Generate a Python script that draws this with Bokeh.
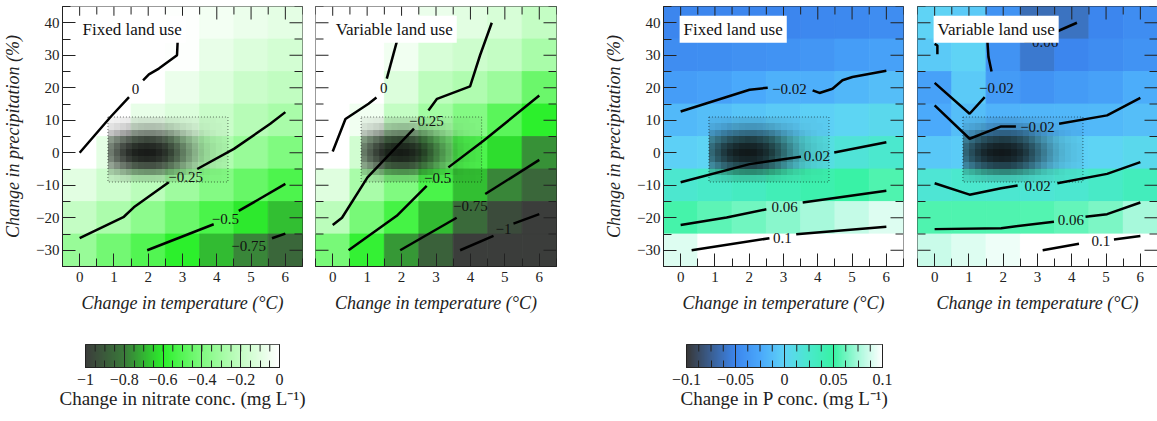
import numpy as np
from bokeh.plotting import figure
from bokeh.layouts import row, column
from bokeh.models import LinearColorMapper, FixedTicker, Label, ColumnDataSource
from bokeh.core.properties import value
from bokeh.embed import file_html
from bokeh.resources import INLINE

FONT = "Liberation Serif"

# ---------------- data ----------------
TEMP = [0, 1, 2, 3, 4, 5, 6]
PRECIP = [40, 30, 20, 10, 0, -10, -20, -30]
X_RANGE = (-0.5, 6.5)
Y_RANGE = (-35, 45)

X_TICKS = [0, 1, 2, 3, 4, 5, 6]
X_TICK_LABELS = ["0", "1", "2", "3", "4", "5", "6"]
X_MINOR = [-0.5, 0.5, 1.5, 2.5, 3.5, 4.5, 5.5, 6.5]
Y_TICKS = [-30, -20, -10, 0, 10, 20, 30, 40]
Y_TICK_LABELS = ["\u221230", "\u221220", "\u221210", "0", "10", "20", "30", "40"]
Y_MINOR = [-35, -25, -15, -5, 5, 15, 25, 35, 45]

# change in nitrate, rows follow PRECIP, columns follow TEMP
NO3_FIXED = [
    [0, 0, 0, -0.01, -0.04, -0.07, -0.09],
    [0, 0, 0, -0.01, -0.08, -0.12, -0.15],
    [0, 0, 0, -0.07, -0.12, -0.18, -0.21],
    [0, 0, -0.08, -0.12, -0.18, -0.24, -0.28],
    [0, -0.09, -0.15, -0.21, -0.26, -0.33, -0.40],
    [-0.10, -0.17, -0.23, -0.31, -0.39, -0.46, -0.52],
    [-0.20, -0.27, -0.36, -0.45, -0.53, -0.61, -0.68],
    [-0.33, -0.43, -0.51, -0.60, -0.69, -0.78, -0.86],
]
NO3_VAR = [
    [0, 0, 0, -0.07, -0.10, -0.14, -0.20],
    [0, 0, -0.05, -0.14, -0.17, -0.20, -0.28],
    [0, 0, -0.12, -0.22, -0.26, -0.32, -0.45],
    [0, -0.05, -0.20, -0.30, -0.39, -0.49, -0.60],
    [0, -0.16, -0.29, -0.41, -0.52, -0.63, -0.76],
    [-0.11, -0.28, -0.40, -0.53, -0.68, -0.78, -0.86],
    [-0.23, -0.42, -0.54, -0.69, -0.85, -0.95, -1.0],
    [-0.42, -0.58, -0.75, -0.88, -1.0, -1.0, -1.0],
]
# change in P
P_FIXED = [
    [-0.050, -0.050, -0.050, -0.050, -0.048, -0.047, -0.045],
    [-0.045, -0.044, -0.042, -0.040, -0.038, -0.033, -0.030],
    [-0.033, -0.030, -0.025, -0.020, -0.021, -0.016, -0.012],
    [-0.015, -0.012, -0.008, -0.005, -0.002, 0.002, 0.006],
    [-0.002, 0.001, 0.004, 0.008, 0.012, 0.018, 0.024],
    [0.023, 0.027, 0.032, 0.038, 0.043, 0.049, 0.055],
    [0.053, 0.058, 0.063, 0.068, 0.075, 0.083, 0.090],
    [0.090, 0.100, 0.100, 0.100, 0.100, 0.100, 0.100],
]
P_VAR = [
    [0.000, -0.005, -0.040, -0.065, -0.062, -0.050, -0.045],
    [-0.005, 0.000, -0.040, -0.058, -0.050, -0.045, -0.040],
    [-0.030, -0.005, -0.035, -0.040, -0.035, -0.030, -0.022],
    [-0.024, -0.012, -0.018, -0.017, -0.016, -0.015, -0.012],
    [-0.007, -0.004, -0.004, -0.003, -0.002, 0.001, 0.006],
    [0.020, 0.024, 0.022, 0.020, 0.022, 0.028, 0.035],
    [0.055, 0.055, 0.055, 0.056, 0.060, 0.065, 0.075],
    [0.085, 0.090, 0.095, 0.100, 0.100, 0.100, 0.100],
]

# contour segments: (xs, ys)
NO3_FIXED_LINES = [
    ([0, 0.9, 1.44], [0, 11, 17.1]),
    ([1.85, 2.02, 2.31, 2.84, 2.86], [22.3, 24.1, 25.9, 30, 34.6]),
    ([0, 1.29, 1.58, 2.6], [-26.3, -19.7, -16.8, -9.1]),
    ([3.43, 4.5, 5.56, 6.0], [-5, 1.2, 8.9, 12.5]),
    ([1.97, 3.91], [-30, -22]),
    ([4.64, 6.0], [-17.9, -9.6]),
    ([5.61, 6.0], [-26.3, -24.9]),
]
NO3_FIXED_LABELS = [(1.63, 19.7, "0"), (3.09, -7.6, "\u22120.25"),
                    (4.25, -20.5, "\u22120.5"), (4.93, -28.7, "\u22120.75")]
NO3_VAR_LINES = [
    ([0, 0.37, 1.04, 1.27], [0.4, 10.4, 15.1, 17]),
    ([1.57, 1.88], [22.8, 34.9]),
    ([0, 0.27, 1.01, 2.36], [-22.2, -20, -7.6, 7.4]),
    ([2.78, 3.03, 3.99, 4.28, 4.62], [13, 16.6, 20.4, 30, 40]),
    ([0.46, 1.86, 2.73], [-30, -19.4, -10.2]),
    ([3.36, 4.38, 6.0], [-4.5, 3.7, 17.6]),
    ([1.96, 3.6], [-30, -20]),
    ([4.43, 6.0], [-12.7, -2.2]),
    ([3.7, 4.67], [-30, -25.6]),
    ([5.25, 6.0], [-21.8, -18.9]),
]
NO3_VAR_LABELS = [(1.48, 20, "0"), (2.72, 9.8, "\u22120.25"), (3.05, -7.8, "\u22120.5"),
                  (4.0, -16.4, "\u22120.75"), (4.96, -23.5, "\u22121")]
P_FIXED_LINES = [
    ([0, 2.01, 2.54], [12.7, 19.4, 20]),
    ([3.85, 4.05, 4.43, 4.72, 5.01, 6.0], [19.2, 18.4, 19.7, 22.3, 23.3, 25.2]),
    ([0, 2.01, 3.51], [-9.1, -3.5, -1.2]),
    ([4.48, 6.0], [0.1, 3.2]),
    ([0, 1.34, 2.5], [-22.2, -19.9, -17.4]),
    ([3.56, 6.0], [-15.3, -11.7]),
    ([0.32, 2.59], [-30, -26.3]),
    ([3.37, 6.0], [-25.1, -22.8]),
]
P_FIXED_LABELS = [(3.17, 19.7, "\u22120.02"), (3.97, -1.0, "0.02"),
                  (3.03, -16.6, "0.06"), (2.97, -26.1, "0.1")]
P_VAR_LINES = [
    ([0, 0.08, 0.08], [33.5, 33, 30.3]),
    ([3.5, 4.15], [37, 40]),
    ([1.53, 1.57, 1.66], [35.7, 29.5, 25]),
    ([1.46, 1.02, 0], [17.1, 12, 21.5]),
    ([0, 1.02, 1.94, 2.37], [14.6, 4.3, 8.1, 8.1]),
    ([3.63, 5.03, 6.0], [8.9, 11.5, 16.9]),
    ([0, 1.02, 1.94, 2.42], [-9.4, -12.9, -10.9, -10.1]),
    ([3.58, 5.03, 6.0], [-9.4, -6.5, -2.9]),
    ([0, 1.94, 3.48], [-23.5, -23.2, -21.2]),
    ([4.4, 5.03, 6.0], [-19.7, -18.9, -15.3]),
    ([3.15, 4.21], [-30, -28]),
    ([5.23, 6.0], [-26.7, -25.6]),
]
P_VAR_LABELS = [(3.1, 34.2, "\u22120.06"), (1.8, 19.8, "\u22120.02"), (3.0, 7.8, "\u22120.02"),
                (3.0, -10.1, "0.02"), (3.97, -20.8, "0.06"), (4.85, -27.2, "0.1")]

# climate-scenario sample cloud: extent and read-off point density (rows top to bottom)
CLOUD_X = [0.825, 4.325]
CLOUD_Y = [-9, 11]
CLOUD_DENSITY = [
    [.06, .07, .08, .09, .10, .11, .11, .11, .11, .10, .09, .08, .07, .06, .05, .05, .04, .04, .03, .03],
    [.12, .15, .18, .21, .23, .25, .26, .26, .25, .23, .20, .17, .14, .11, .09, .07, .06, .05, .04, .03],
    [.25, .31, .37, .42, .46, .49, .50, .50, .48, .45, .40, .34, .27, .21, .16, .12, .09, .07, .05, .04],
    [.42, .51, .59, .66, .71, .74, .76, .75, .72, .67, .60, .51, .41, .32, .24, .17, .12, .09, .07, .05],
    [.52, .63, .73, .80, .85, .88, .89, .88, .85, .80, .72, .62, .51, .40, .30, .21, .15, .11, .08, .06],
    [.55, .67, .78, .86, .91, .93, .94, .93, .90, .85, .77, .66, .54, .43, .32, .23, .16, .11, .08, .06],
    [.50, .62, .72, .80, .85, .88, .89, .88, .85, .80, .72, .62, .51, .40, .30, .21, .15, .11, .08, .06],
    [.38, .47, .56, .63, .68, .71, .72, .72, .69, .64, .57, .49, .39, .30, .22, .16, .11, .08, .06, .05],
    [.21, .26, .32, .37, .41, .43, .44, .44, .42, .39, .34, .29, .23, .17, .13, .10, .07, .05, .04, .03],
    [.08, .10, .12, .14, .15, .16, .16, .16, .15, .14, .12, .10, .08, .07, .06, .05, .04, .03, .03, .02],
]

NO3_CB_RANGE = (-1.0, 0.0)
NO3_CB_TICKS = [-1, -0.8, -0.6, -0.4, -0.2, 0]
NO3_CB_LABELS = ["\u22121", "\u22120.8", "\u22120.6", "\u22120.4", "\u22120.2", "0"]
NO3_CB_MINOR = [round(-1 + 0.05 * i, 3) for i in range(21)]
P_CB_RANGE = (-0.1, 0.1)
P_CB_TICKS = [-0.1, -0.05, 0, 0.05, 0.1]
P_CB_LABELS = ["\u22120.1", "\u22120.05", "0", "0.05", "0.1"]
P_CB_MINOR = [round(-0.1 + 0.0125 * i, 4) for i in range(17)]

# ---------------- colour maps ----------------
NO3_STOPS = [(-1.0, "#3b3d3b"), (-0.8, "#3a7a3a"), (-0.6, "#2cf02c"),
             (-0.4, "#80fa80"), (-0.2, "#c4fdc4"), (0.0, "#ffffff")]
P_STOPS = [(-0.1, "#383838"), (-0.05, "#3c86ee"), (-0.025, "#4aa8fb"), (0.0, "#5fd3f6"),
           (0.025, "#4ae9cc"), (0.05, "#38f2a4"), (0.075, "#a5f9da"), (0.1, "#ffffff")]


def build_palette(stops, n=256):
    vs = [s[0] for s in stops]
    cs = [tuple(int(s[1][i:i + 2], 16) for i in (1, 3, 5)) for s in stops]
    out = []
    for k in range(n):
        v = vs[0] + (vs[-1] - vs[0]) * k / (n - 1)
        j = max(i for i in range(len(vs) - 1) if vs[i] <= v + 1e-12) if v < vs[-1] else len(vs) - 2
        t = (v - vs[j]) / (vs[j + 1] - vs[j])
        c = [round(cs[j][m] + (cs[j + 1][m] - cs[j][m]) * t) for m in range(3)]
        out.append("#%02x%02x%02x" % tuple(c))
    return out


no3_mapper = LinearColorMapper(palette=build_palette(NO3_STOPS), low=-1.0, high=0.0)
p_mapper = LinearColorMapper(palette=build_palette(P_STOPS), low=-0.1, high=0.1)

INK = "#222222"
MAJ = 13
MIN = 8


def style_axis(ax, ticks, minor, labels):
    ax.ticker = FixedTicker(ticks=ticks, minor_ticks=minor)
    ax.major_tick_in = MAJ
    ax.major_tick_out = 0
    ax.minor_tick_in = MIN
    ax.minor_tick_out = 0
    ax.axis_line_color = INK
    ax.major_tick_line_color = INK
    ax.minor_tick_line_color = INK
    ax.major_label_text_font = FONT
    ax.major_label_text_color = INK
    ax.major_label_text_font_size = "15px"
    ax.axis_label_text_font = FONT
    ax.axis_label_text_font_style = "italic"
    ax.axis_label_text_font_size = "18px"
    ax.axis_label_text_color = INK
    ax.major_label_overrides = dict(zip(ticks, labels))


def edge_ticks(p, pos, at, length, angle):
    # inward tick marks along a frame edge (screen-length rays)
    if angle in (0.0, np.pi):
        xs, ys = [pos] * len(at), at
    else:
        xs, ys = at, [pos] * len(at)
    p.ray(x=xs, y=ys, length=length, angle=angle, length_units="screen",
          line_color=INK, line_width=1)


def cloud_image():
    dens = np.array(CLOUD_DENSITY[::-1])
    ny, nx = dens.shape
    img = np.zeros((ny, nx), dtype=np.uint32)
    view = img.view(dtype=np.uint8).reshape((ny, nx, 4))
    view[:, :, 0] = 12
    view[:, :, 1] = 12
    view[:, :, 2] = 12
    view[:, :, 3] = (dens * 255).astype(np.uint8)
    return img


def make_panel(grid, mapper, lines, labels, title, show_y, left, right, fw):
    p = figure(frame_width=fw, frame_height=260, x_range=X_RANGE, y_range=Y_RANGE,
               min_border_left=left, min_border_right=right, min_border_top=6,
               min_border_bottom=50, output_backend="svg", toolbar_location=None, tools="")
    p.grid.visible = False
    p.outline_line_color = INK
    p.background_fill_color = "white"
    p.border_fill_color = "white"

    xs, ys, vs = [], [], []
    for r, pr in enumerate(PRECIP):
        for c, t in enumerate(TEMP):
            xs.append(t)
            ys.append(pr)
            vs.append(grid[r][c])
    src = ColumnDataSource(dict(x=xs, y=ys, v=vs))
    p.rect(x="x", y="y", width=1, height=10, source=src,
           fill_color={"field": "v", "transform": mapper},
           line_color={"field": "v", "transform": mapper}, line_width=0.8)

    p.image_rgba(image=[cloud_image()], x=CLOUD_X[0], y=CLOUD_Y[0],
                 dw=CLOUD_X[1] - CLOUD_X[0], dh=CLOUD_Y[1] - CLOUD_Y[0])
    p.quad(left=[CLOUD_X[0]], right=[CLOUD_X[1]], bottom=[CLOUD_Y[0]], top=[CLOUD_Y[1]],
           fill_color=None, line_color="black", line_alpha=0.55, line_width=1, line_dash="1 2")

    p.multi_line(xs=[l[0] for l in lines], ys=[l[1] for l in lines],
                 line_color="black", line_width=2.5)
    p.text(x=[l[0] for l in labels], y=[l[1] for l in labels], text=[l[2] for l in labels],
           text_align="center", text_baseline="middle", text_font=value(FONT),
           text_font_size="15px", text_color="#111111")

    style_axis(p.xaxis[0], X_TICKS, X_MINOR, X_TICK_LABELS)
    p.xaxis.axis_label = "Change in temperature (\u00b0C)"
    p.xaxis.major_label_standoff = 5
    p.xaxis.axis_label_standoff = 8
    if show_y:
        style_axis(p.yaxis[0], Y_TICKS, Y_MINOR, Y_TICK_LABELS)
        p.yaxis.axis_label = "Change in precipitation (%)"
        p.yaxis.major_label_standoff = 3
        p.yaxis.axis_label_standoff = 10
    else:
        p.yaxis.visible = False
        edge_ticks(p, X_RANGE[0], Y_TICKS, MAJ, 0.0)
        edge_ticks(p, X_RANGE[0], Y_MINOR, MIN, 0.0)

    # mirrored inward ticks on top and right
    edge_ticks(p, Y_RANGE[1], X_TICKS, MAJ, -np.pi / 2)
    edge_ticks(p, Y_RANGE[1], X_MINOR, MIN, -np.pi / 2)
    edge_ticks(p, X_RANGE[1], Y_TICKS, MAJ, np.pi)
    edge_ticks(p, X_RANGE[1], Y_MINOR, MIN, np.pi)

    p.add_layout(Label(x=-0.03, y=38, text=title, text_font=FONT, text_font_size="17px",
                       text_baseline="middle", text_align="left", text_color="#111111",
                       background_fill_color="white", padding=4))
    return p


def make_cbar(mapper, rng, ticks, labels, minor, title, left, fw, right):
    lo, hi = rng
    c = figure(frame_width=fw, frame_height=23, x_range=rng, y_range=(0, 1),
               min_border_left=left, min_border_right=right, min_border_top=28,
               min_border_bottom=54, output_backend="svg", toolbar_location=None, tools="")
    c.grid.visible = False
    c.yaxis.visible = False
    c.outline_line_color = INK
    c.image(image=[np.linspace(lo, hi, 256)[None, :]], x=lo, y=0, dw=hi - lo, dh=1,
            color_mapper=mapper)
    ax = c.xaxis[0]
    ax.ticker = FixedTicker(ticks=ticks, minor_ticks=minor)
    ax.major_label_overrides = dict(zip(ticks, labels))
    ax.major_tick_in = 23
    ax.major_tick_out = 0
    ax.minor_tick_in = 7
    ax.minor_tick_out = 0
    ax.axis_line_color = INK
    ax.major_tick_line_color = INK
    ax.minor_tick_line_color = INK
    ax.major_label_text_font = FONT
    ax.major_label_text_font_size = "16px"
    ax.major_label_text_color = INK
    ax.major_label_standoff = 6
    ax.axis_label = title
    ax.axis_label_text_font = FONT
    ax.axis_label_text_font_style = "normal"
    ax.axis_label_text_font_size = "19px"
    ax.axis_label_text_color = INK
    ax.axis_label_standoff = 0
    edge_ticks(c, 1, minor, 7, -np.pi / 2)
    return c


p1 = make_panel(NO3_FIXED, no3_mapper, NO3_FIXED_LINES, NO3_FIXED_LABELS, "Fixed land use", True, 62, 6, 240)
p2 = make_panel(NO3_VAR, no3_mapper, NO3_VAR_LINES, NO3_VAR_LABELS, "Variable land use", False, 7, 45, 241)
p3 = make_panel(P_FIXED, p_mapper, P_FIXED_LINES, P_FIXED_LABELS, "Fixed land use", True, 62, 7, 240)
p4 = make_panel(P_VAR, p_mapper, P_VAR_LINES, P_VAR_LABELS, "Variable land use", False, 7, 0, 240)

cb1 = make_cbar(no3_mapper, NO3_CB_RANGE, NO3_CB_TICKS, NO3_CB_LABELS, NO3_CB_MINOR,
                "Change in nitrate conc. (mg L\u207b\u00b9)", 85, 194, 60)
cb2 = make_cbar(p_mapper, P_CB_RANGE, P_CB_TICKS, P_CB_LABELS, P_CB_MINOR,
                "Change in P conc. (mg L\u207b\u00b9)", 347, 196, 30)

layout = column(row(p1, p2, p3, p4), row(cb1, cb2))
open("out.html", "w").write(file_html(layout, INLINE))
